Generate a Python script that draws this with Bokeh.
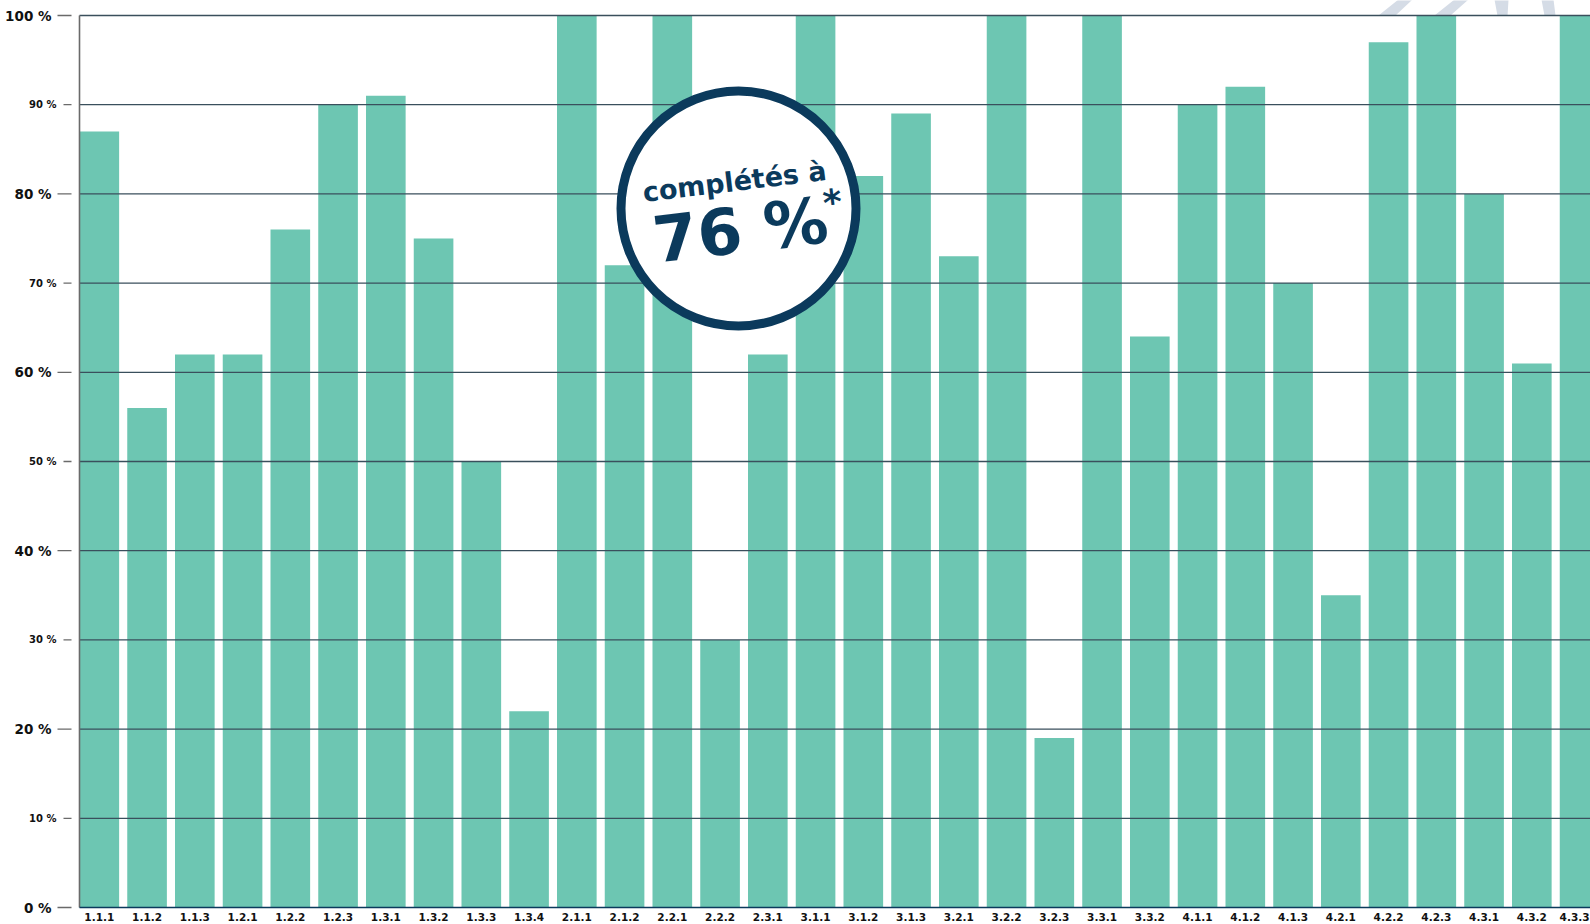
from bokeh.plotting import figure
from bokeh.models import Range1d
from bokeh.core.properties import value
from bokeh.embed import file_html
from bokeh.resources import INLINE

# ---- data ----
categories = ["1.1.1", "1.1.2", "1.1.3", "1.2.1", "1.2.2", "1.2.3", "1.3.1", "1.3.2",
              "1.3.3", "1.3.4", "2.1.1", "2.1.2", "2.2.1", "2.2.2", "2.3.1", "3.1.1",
              "3.1.2", "3.1.3", "3.2.1", "3.2.2", "3.2.3", "3.3.1", "3.3.2", "4.1.1",
              "4.1.2", "4.1.3", "4.2.1", "4.2.2", "4.2.3", "4.3.1", "4.3.2", "4.3.3"]
completion = [87, 56, 62, 62, 76, 90, 91, 75, 50, 22, 100, 72, 100, 30, 62, 100,
              82, 89, 73, 100, 19, 100, 64, 90, 92, 70, 35, 97, 100, 80, 61, 100]
y_ticks = [0, 10, 20, 30, 40, 50, 60, 70, 80, 90, 100]
y_tick_labels = ["0 %", "10 %", "20 %", "30 %", "40 %", "50 %", "60 %", "70 %", "80 %", "90 %", "100 %"]
badge_line1 = "complétés à"
badge_line2 = "76 %"

# ---- layout (pixels) ----
W, H = 1590, 924
L, T, B = 79, 15, 907
PITCH = 47.75
BAR_W = 0.83
x0 = -BAR_W / 2

BAR = "#6dc6b2"
NAVY = "#0b3a5c"
GRID = "#3a4f5c"
AX = "#6a6a6a"
DECO = "#d5dce6"
FONT = "DejaVu Sans"

def xd(px):
    return x0 + (px - L) / PITCH

def yd(py):
    return (B - py) / (B - T) * 100.0

p = figure(width=W, height=H, x_range=Range1d(xd(0), xd(W)), y_range=Range1d(yd(H), yd(0)),
           output_backend="svg", toolbar_location=None,
           min_border_left=0, min_border_right=0, min_border_top=0, min_border_bottom=0)
p.outline_line_color = None
p.background_fill_color = "white"
p.border_fill_color = "white"
p.xgrid.visible = False
p.ygrid.visible = False
p.xaxis.visible = False
p.yaxis.visible = False

# decorative strokes peeking above the chart (top right)
deco_xs = [[xd(1378), xd(1395), xd(1412), xd(1398)],
           [xd(1434), xd(1450), xd(1468), xd(1454)],
           [xd(1497), xd(1507), xd(1508), xd(1494)],
           [xd(1544), xd(1555), xd(1553), xd(1541)]]
deco_ys = [[yd(15), yd(15), yd(-1), yd(-1)]] * 4
p.patches(xs=deco_xs, ys=deco_ys, fill_color=DECO, line_color=None)

idx = list(range(len(categories)))
p.vbar(x=idx, top=completion, width=BAR_W, bottom=0, fill_color=BAR, line_color=None)

# horizontal rules drawn over the bars
n = len(y_ticks) - 1
p.segment(x0=[xd(L)] * n, x1=[xd(W + 5)] * n, y0=y_ticks[1:], y1=y_ticks[1:],
          line_color=GRID, line_width=1.3)
# axis lines
p.segment(x0=[xd(L)], x1=[xd(L)], y0=[0], y1=[100], line_color=AX, line_width=1.6)
p.segment(x0=[xd(L)], x1=[xd(W + 5)], y0=[0], y1=[0], line_color=NAVY, line_width=1.6)

# y tick dashes and labels
big = [v % 20 == 0 for v in y_ticks]
p.segment(x0=[xd(57) if b else xd(63) for b in big], x1=[xd(71)] * len(y_ticks),
          y0=y_ticks, y1=y_ticks, line_color=AX, line_width=1.3)
p.text(x=[xd(51)] * sum(big), y=[v for v, b in zip(y_ticks, big) if b],
       text=[t for t, b in zip(y_tick_labels, big) if b],
       text_font=value(FONT), text_font_style="bold", text_font_size="13.5px",
       text_color="#111111", text_align="right", text_baseline="middle")
p.text(x=[xd(56)] * (len(big) - sum(big)), y=[v for v, b in zip(y_ticks, big) if not b],
       text=[t for t, b in zip(y_tick_labels, big) if not b],
       text_font=value(FONT), text_font_style="bold", text_font_size="10px",
       text_color="#111111", text_align="right", text_baseline="middle")

# x category labels (last one nudged so it stays inside the page)
x_off = [0] * (len(idx) - 1) + [-5]
p.text(x=idx, y=[yd(912)] * len(idx), text=categories, x_offset=x_off,
       text_font=value(FONT), text_font_style="bold", text_font_size="10.5px",
       text_color="#111111", text_align="center", text_baseline="top")

# badge
p.scatter(x=[xd(738)], y=[yd(208)], size=235, marker="circle",
          fill_color="white", line_color=NAVY, line_width=9)
p.text(x=[xd(734)], y=[yd(181)], text=[badge_line1], angle=0.12,
       text_font=value(FONT), text_font_style="bold", text_font_size="27px",
       text_color=NAVY, text_align="center", text_baseline="middle")
p.text(x=[xd(740)], y=[yd(230)], text=[badge_line2], angle=0.12,
       text_font=value(FONT), text_font_style="bold", text_font_size="64px",
       text_color=NAVY, text_align="center", text_baseline="middle")
p.text(x=[xd(832)], y=[yd(202)], text=["*"], angle=0.12,
       text_font=value(FONT), text_font_style="bold", text_font_size="36px",
       text_color=NAVY, text_align="center", text_baseline="middle")

open("out.html", "w").write(file_html(p, INLINE))
